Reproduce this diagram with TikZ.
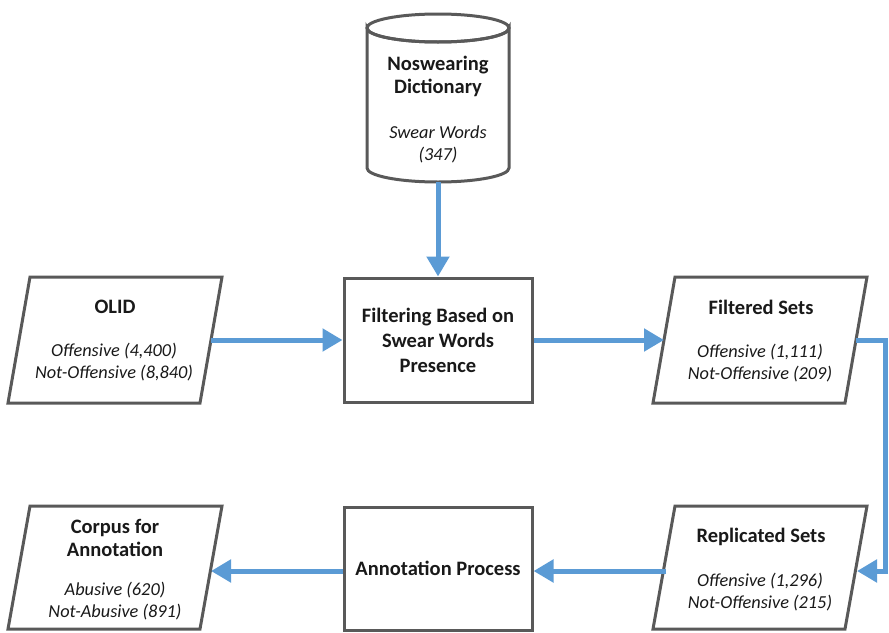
\documentclass[tikz,border=0pt]{standalone}
\usepackage{fontspec}
\setmainfont{Carlito}
\usetikzlibrary{arrows.meta}
\definecolor{flowblue}{HTML}{5B9BD5}
\definecolor{edgegray}{HTML}{595959}
\begin{document}
\begin{tikzpicture}[x=1pt,y=-1pt,
  shapeline/.style={draw=edgegray,line width=3pt,fill=white,line join=miter},
  flow/.style={draw=flowblue,line width=5pt,-{Triangle[length=20pt,width=22pt]}},
  ttl/.style={font=\fontsize{20.5}{23}\selectfont\bfseries,align=center,inner sep=0pt,text=black!90},
  sub/.style={font=\fontsize{18.3}{22}\selectfont\itshape,align=center,inner sep=0pt,text=black!90}]
\useasboundingbox (0,0) rectangle (889,632);

% cylinder
\path[shapeline] (367,28) -- (367,168) arc[start angle=180,end angle=0,x radius=71,y radius=14] -- (509,28) arc[start angle=0,end angle=180,x radius=71,y radius=14] -- cycle;
\draw[draw=edgegray,line width=3pt] (438,28) ellipse [x radius=71,y radius=14];
\node[ttl] (dictT) at (438,76) {Noswearing\\Dictionary};
\node[sub] (dictS) at (438,144) {Swear Words\\(347)};
\coordinate (dictB) at (438,182);

% rectangles
\node[shapeline,minimum width=188pt,minimum height=124pt,inner sep=0pt] (filt) at (438,340) {};
\node[ttl,font=\fontsize{20.5}{25}\selectfont\bfseries] (filtT) at (438,340) {Filtering Based on\\Swear Words\\Presence};
\node[shapeline,minimum width=188pt,minimum height=123pt,inner sep=0pt] (annot) at (438,568.5) {};
\node[ttl] (annotT) at (438,568) {Annotation Process};

% parallelograms
\path[shapeline] (30,277) -- (222,277) -- (200,403) -- (8,403) -- cycle;
\node[ttl] (olidT) at (115,307) {OLID};
\node[sub] (olidS) at (114,362.5) {Offensive (4,400)\\Not-Offensive (8,840)};
\coordinate (olidR) at (211,340);

\path[shapeline] (675,277) -- (867,277) -- (845,403) -- (653,403) -- cycle;
\node[ttl] (fsetT) at (761,307) {Filtered Sets};
\node[sub] (fsetS) at (760,363) {Offensive (1,111)\\Not-Offensive (209)};
\coordinate (fsetL) at (664,340);
\coordinate (fsetR) at (856,340);

\path[shapeline] (675,506) -- (867,506) -- (845,629) -- (653,629) -- cycle;
\node[ttl] (rsetT) at (761,537) {Replicated Sets};
\node[sub] (rsetS) at (760,592.5) {Offensive (1,296)\\Not-Offensive (215)};
\coordinate (rsetL) at (666,571);
\coordinate (rsetR) at (857,571);

\path[shapeline] (30,506) -- (222,506) -- (200,629) -- (8,629) -- cycle;
\node[ttl] (corpT) at (115,537.5) {Corpus for\\Annotation};
\node[sub] (corpS) at (115,601.5) {Abusive (620)\\Not-Abusive (891)};
\coordinate (corpR) at (211,571);

% connectors
\coordinate (turn1) at (885,340);
\coordinate (turn2) at (885,571);
\draw[flow] (dictB) -- (filt.north);
\draw[flow] (olidR) -- (filt.west);
\draw[flow] (filt.east) -- (fsetL);
\draw[flow,line join=miter] (fsetR) -- (turn1) -- (turn2) -- (rsetR);
\draw[flow] (rsetL) -- (annot.east |- rsetL);
\draw[flow] (annot.west |- corpR) -- (corpR);
\end{tikzpicture}
\end{document}
